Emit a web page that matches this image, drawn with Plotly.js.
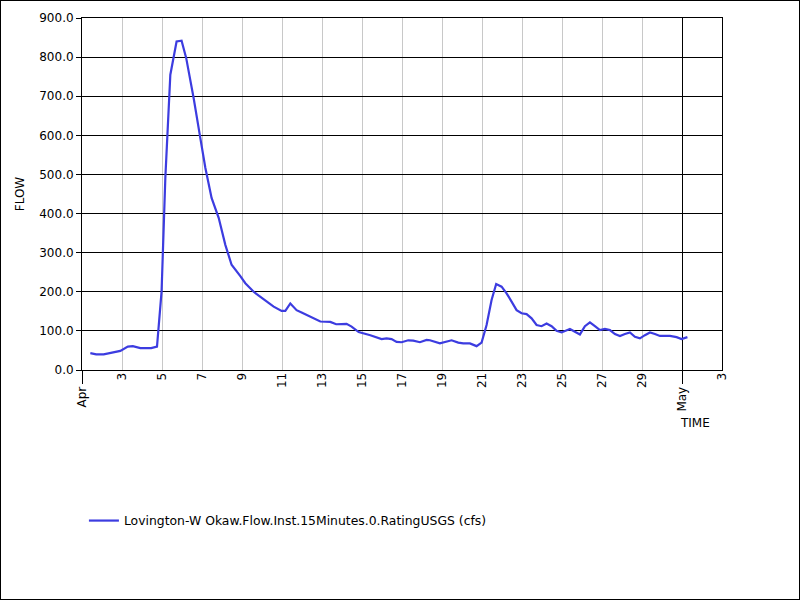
<!DOCTYPE html>
<html>
<head>
<meta charset="utf-8">
<script src="https://cdn.plot.ly/plotly-3.0.1.min.js"></script>
<style>
  html, body { margin: 0; padding: 0; background: #fff; }
  #wrap { position: relative; width: 800px; height: 600px; }
  #chart { position: absolute; left: 0; top: 0; width: 800px; height: 600px; }
  #frame { position: absolute; left: 0; top: 0; width: 798px; height: 598px; border: 1px solid #000; pointer-events: none; }
</style>
</head>
<body>
<div id="wrap"><div id="chart"></div><div id="frame"></div></div>
<script>
const seriesName = "Lovington-W Okaw.Flow.Inst.15Minutes.0.RatingUSGS (cfs)";

const times = [
  "2024-04-01 10:00","2024-04-01 17:00","2024-04-02 02:00","2024-04-02 10:00","2024-04-02 14:00",
  "2024-04-02 22:00","2024-04-03 07:00","2024-04-03 13:00","2024-04-03 22:00","2024-04-04 11:00",
  "2024-04-04 18:00","2024-04-04 23:30","2024-04-05 04:00","2024-04-05 10:00","2024-04-05 17:30",
  "2024-04-05 23:30","2024-04-06 05:00","2024-04-06 14:00","2024-04-06 22:00","2024-04-07 04:00",
  "2024-04-07 11:30","2024-04-07 20:00","2024-04-08 04:00","2024-04-08 11:30","2024-04-08 22:00",
  "2024-04-09 04:00","2024-04-09 14:00","2024-04-09 22:00","2024-04-10 14:00","2024-04-10 23:30",
  "2024-04-11 04:00","2024-04-11 10:00","2024-04-11 17:30","2024-04-11 23:30","2024-04-12 05:30",
  "2024-04-12 22:00","2024-04-13 10:00","2024-04-13 17:00","2024-04-14 05:30","2024-04-14 11:30",
  "2024-04-14 20:00","2024-04-15 02:00","2024-04-15 10:00","2024-04-15 23:30","2024-04-16 05:30",
  "2024-04-16 11:30","2024-04-16 17:30","2024-04-16 23:30","2024-04-17 07:30","2024-04-17 13:30",
  "2024-04-17 21:30","2024-04-18 05:30","2024-04-18 09:30","2024-04-18 21:30","2024-04-19 03:30",
  "2024-04-19 11:30","2024-04-19 19:30","2024-04-20 01:30","2024-04-20 09:30","2024-04-20 17:30",
  "2024-04-20 23:30","2024-04-21 03:30","2024-04-21 05:30","2024-04-21 11:30","2024-04-21 17:00",
  "2024-04-21 23:30","2024-04-22 05:30","2024-04-22 11:30","2024-04-22 17:30","2024-04-22 23:30",
  "2024-04-23 05:30","2024-04-23 11:30","2024-04-23 17:30","2024-04-23 23:30","2024-04-24 05:30",
  "2024-04-24 11:30","2024-04-24 17:30","2024-04-24 23:30","2024-04-25 05:30","2024-04-25 09:30",
  "2024-04-25 15:30","2024-04-25 21:30","2024-04-26 03:30","2024-04-26 09:30","2024-04-26 15:30",
  "2024-04-26 21:30","2024-04-27 03:30","2024-04-27 09:30","2024-04-27 15:30","2024-04-27 21:30",
  "2024-04-28 03:30","2024-04-28 09:30","2024-04-28 15:30","2024-04-28 21:30","2024-04-29 03:30",
  "2024-04-29 09:30","2024-04-29 15:30","2024-04-29 21:30","2024-04-30 09:30","2024-04-30 17:30",
  "2024-04-30 23:30","2024-05-01 06:30"
];

const flows = [
  43, 40, 40, 44, 45,
  49, 60, 61, 56, 56,
  60, 201, 491, 755, 840,
  842, 798, 695, 593, 517,
  440, 389, 320, 269, 240,
  222, 200, 187, 162, 151,
  151, 170, 153, 147, 141,
  124, 123, 117, 118, 111,
  97, 94, 89, 79, 81,
  79, 72, 71, 76, 75,
  71, 77, 76, 68, 71,
  76, 70, 68, 68, 61,
  70, 98, 115, 179, 220,
  213, 196, 175, 153, 145,
  143, 132, 115, 112, 119,
  112, 100, 96, 102, 105,
  98, 91, 112, 122, 112,
  102, 105, 102, 92, 87,
  92, 96, 85, 81, 89,
  96, 92, 87, 87, 84,
  79, 84
];

const xRange = ["2024-04-01 00:00", "2024-05-03 00:00"];
const dayTickVals = ["2024-04-03","2024-04-05","2024-04-07","2024-04-09","2024-04-11","2024-04-13",
  "2024-04-15","2024-04-17","2024-04-19","2024-04-21","2024-04-23","2024-04-25","2024-04-27",
  "2024-04-29","2024-05-03"];
const dayTickText = ["3","5","7","9","11","13","15","17","19","21","23","25","27","29","3"];
const monthTickVals = ["2024-04-01","2024-05-01"];
const monthTickText = ["Apr","May"];

const font = { family: "DejaVu Sans, Verdana, sans-serif", size: 12, color: "#000" };

const data = [{
  type: "scatter",
  mode: "lines",
  x: times,
  y: flows,
  name: seriesName,
  line: { color: "#3c3ce0", width: 2.2 },
  showlegend: true
}, {
  type: "scatter",
  mode: "lines",
  x: [],
  y: [],
  xaxis: "x2",
  yaxis: "y",
  showlegend: false,
  hoverinfo: "skip"
}];

const layout = {
  width: 800,
  height: 600,
  margin: { l: 82, r: 78, t: 18, b: 230, pad: 0 },
  paper_bgcolor: "#fff",
  plot_bgcolor: "#fff",
  font: font,
  showlegend: true,
  legend: {
    orientation: "h",
    x: 0.003, xanchor: "left",
    y: -0.429, yanchor: "middle",
    font: { family: font.family, size: 12.4, color: "#000" },
    bgcolor: "rgba(0,0,0,0)"
  },
  xaxis: {
    type: "date",
    range: xRange,
    tickmode: "array",
    tickvals: dayTickVals,
    ticktext: dayTickText,
    tickangle: -90,
    ticks: "",
    ticklabelstandoff: -3,
    showgrid: true,
    gridcolor: "#c8c8c8",
    gridwidth: 1,
    showline: true,
    linecolor: "#000",
    linewidth: 1,
    mirror: true,
    zeroline: false,
    tickfont: font
  },
  xaxis2: {
    type: "date",
    overlaying: "x",
    anchor: "y",
    side: "bottom",
    range: xRange,
    tickmode: "array",
    tickvals: monthTickVals,
    ticktext: monthTickText,
    tickangle: -90,
    ticks: "outside",
    ticklen: 13,
    tickcolor: "#000",
    tickwidth: 1,
    ticklabelstandoff: -2,
    showgrid: true,
    gridcolor: "#000",
    gridwidth: 1,
    showline: false,
    zeroline: false,
    tickfont: font
  },
  yaxis: {
    range: [0, 900],
    tickmode: "linear",
    tick0: 0,
    dtick: 100,
    tickformat: ".1f",
    ticks: "outside",
    ticklen: 5,
    tickcolor: "#000",
    showgrid: true,
    gridcolor: "#000",
    gridwidth: 1,
    showline: true,
    linecolor: "#000",
    mirror: true,
    zeroline: false,
    tickfont: font,
    title: { text: "FLOW", font: font, standoff: 12 }
  },
  annotations: [{
    text: "TIME",
    xref: "paper", yref: "paper",
    x: 0.931, y: -0.1506,
    xanchor: "left", yanchor: "middle",
    showarrow: false,
    font: font
  }]
};

Plotly.newPlot("chart", data, layout, { staticPlot: true, displayModeBar: false });
</script>
</body>
</html>
